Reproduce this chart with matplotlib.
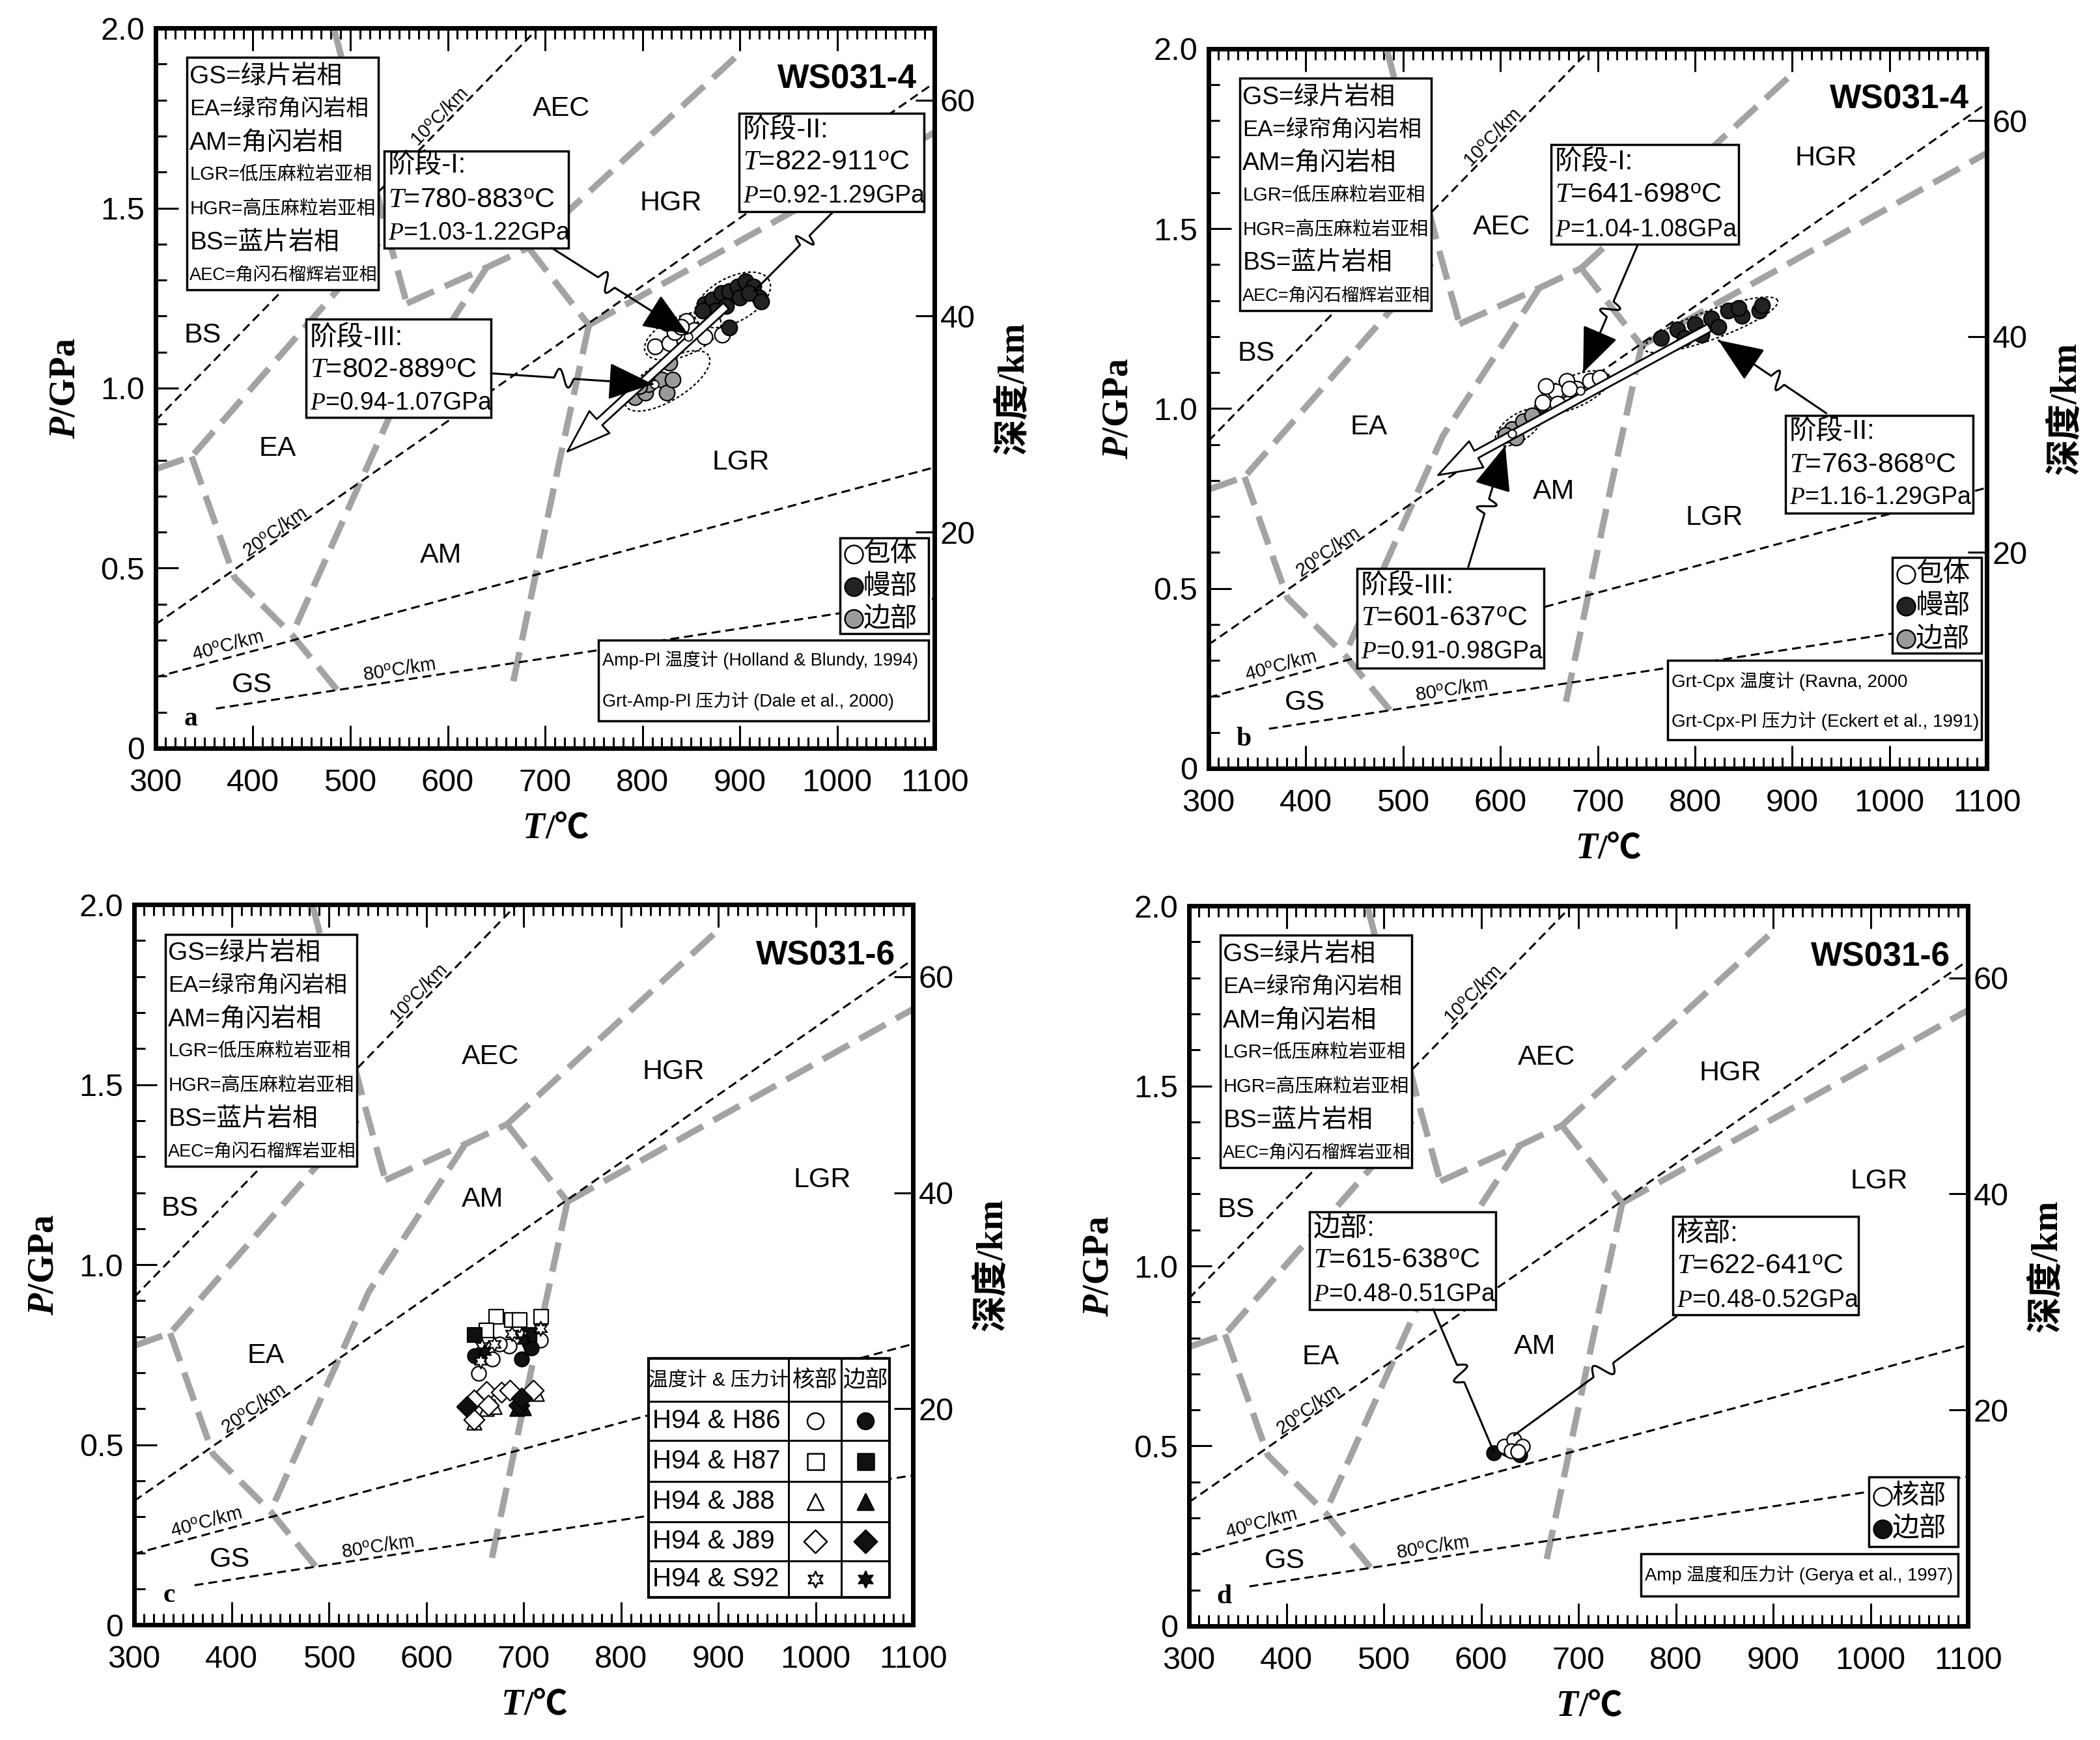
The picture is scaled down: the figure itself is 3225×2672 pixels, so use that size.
import numpy as np
import matplotlib
matplotlib.use('Agg')
import matplotlib.pyplot as plt
from matplotlib.patches import Rectangle, FancyArrowPatch
from matplotlib.path import Path
from matplotlib.ticker import MultipleLocator

plt.rcParams['font.family'] = ['Liberation Sans', 'Noto Sans CJK SC']
plt.rcParams['mathtext.fontset'] = 'custom'
plt.rcParams['mathtext.rm'] = 'Liberation Sans'
plt.rcParams['mathtext.it'] = 'Liberation Serif:italic'
plt.rcParams['mathtext.bf'] = 'Liberation Serif:bold'
plt.rcParams['mathtext.bfit'] = 'Liberation Serif:italic:bold'

SANS = ['Liberation Sans', 'Noto Sans CJK SC']
SERIF = ['Liberation Serif', 'Noto Sans CJK SC']

# ---- facies boundaries (T in C, P in GPa), shared by all panels
bnd_T = [[483, 538, 558], [300, 337, 538], [337, 381, 440, 490], [558, 640, 683],
         [640, 541, 440], [683, 900], [683, 745], [745, 1100], [745, 715, 667]]
bnd_P = [[2.0, 1.43, 1.235], [0.775, 0.81, 1.43], [0.81, 0.474, 0.315, 0.15], [1.235, 1.335, 1.39],
         [1.335, 0.925, 0.315], [1.39, 1.93], [1.39, 1.175], [1.175, 1.71], [1.175, 0.8, 0.18]]

# ---- geotherms
geo_labels = ['10$^{\\rm o}$C/km', '20$^{\\rm o}$C/km', '40$^{\\rm o}$C/km', '80$^{\\rm o}$C/km']
geo_T0 = [300, 300, 300, 362]
geo_P0 = [0.91, 0.344, 0.197, 0.11]
geo_T1 = [693, 1100, 1100, 1100]
geo_P1 = [2.0, 1.848, 0.78, 0.415]
geo_lab_T = [592, 423, 374, 550]
geo_lab_P = [1.753, 0.60, 0.285, 0.217]

facies = ['BS', 'EA', 'AM', 'LGR', 'HGR', 'AEC', 'GS']
facies_T = {'a': [348, 425, 593, 901, 829, 717, 399],
            'b': [349, 465, 655, 820, 935, 601, 399],
            'c': [347, 435, 658, 1007, 854, 666, 398],
            'd': [348, 435, 655, 1009, 856, 667, 398]}
facies_P = {'a': [1.146, 0.831, 0.535, 0.794, 1.513, 1.775, 0.175],
            'b': [1.152, 0.949, 0.769, 0.697, 1.695, 1.503, 0.182],
            'c': [1.155, 0.747, 1.181, 1.236, 1.535, 1.577, 0.181],
            'd': [1.155, 0.747, 0.775, 1.236, 1.535, 1.578, 0.181]}

legend_lines = ['GS=绿片岩相', 'EA=绿帘角闪岩相', 'AM=角闪岩相', 'LGR=低压麻粒岩亚相',
                'HGR=高压麻粒岩亚相', 'BS=蓝片岩相', 'AEC=角闪石榴辉岩亚相']
legend_sizes = [28, 25, 28, 21, 21, 28, 19.5]

# ---- panel a data (WS031-4, Amp-Pl)
incl_a_T = [813, 828, 845, 853, 864, 882, 833, 825, 840]
incl_a_P = [1.116, 1.125, 1.186, 1.161, 1.143, 1.149, 1.155, 1.18, 1.17]
rim_a_T = [792, 803, 811, 820, 825, 828, 806, 831, 797]
rim_a_P = [0.975, 0.987, 1.029, 1.023, 0.987, 1.071, 1.011, 1.023, 1.005]
mant_a_T = [864, 872, 881, 889, 898, 906, 914, 920, 900, 886, 875, 889, 909, 922, 862]
mant_a_P = [1.234, 1.246, 1.264, 1.27, 1.282, 1.297, 1.282, 1.252, 1.252, 1.228, 1.216, 1.168, 1.264, 1.24, 1.216]
mean_a_T = [847, 812]
mean_a_P = [1.143, 1.011]

# ---- panel b data (WS031-4, Grt-Cpx)
incl_b_T = [643.5, 657, 668, 678, 692, 702.5, 647, 659, 671]
incl_b_P = [1.017, 1.047, 1.077, 1.055, 1.077, 1.085, 1.062, 1.013, 1.055]
rim_b_T = [612, 623, 633, 605, 616]
rim_b_P = [0.942, 0.965, 0.98, 0.927, 0.92]
mant_b_T = [765, 782, 800, 817, 834, 848, 866, 869, 807, 824, 789, 845]
mant_b_P = [1.197, 1.22, 1.235, 1.25, 1.272, 1.257, 1.272, 1.287, 1.205, 1.227, 1.197, 1.28]
mean_b_T = [682, 612]
mean_b_P = [1.05, 0.93]

# ---- panel c data (WS031-6, several barometers), open = core, filled = rim
c_rows = ['H94 & H86', 'H94 & H87', 'H94 & J88', 'H94 & J89', 'H94 & S92']
c_markers = ['o', 's', '^', 'D', (6, 1, 0)]
c_core_T = [[654, 668, 685, 717, 675],
            [672, 688, 696, 718, 662],
            [649, 662, 670, 713],
            [649, 649, 662, 677, 686, 710, 664],
            [656, 670, 688, 698, 717, 657]]
c_core_P = [[0.699, 0.738, 0.774, 0.79, 0.78],
            [0.856, 0.847, 0.847, 0.856, 0.817],
            [0.563, 0.60, 0.606, 0.642],
            [0.569, 0.624, 0.648, 0.645, 0.651, 0.651, 0.609],
            [0.732, 0.78, 0.808, 0.805, 0.823, 0.774]]
c_rim_T = [[650, 698, 708],
           [650, 706],
           [693, 700],
           [642, 695, 698],
           [660, 700]]
c_rim_P = [[0.747, 0.738, 0.768],
           [0.805, 0.805],
           [0.60, 0.603],
           [0.606, 0.609, 0.63],
           [0.76, 0.79]]

# ---- panel d data (WS031-6, Amp)
core_d_T = [624, 634, 642.5, 631, 637.6]
core_d_P = [0.499, 0.518, 0.499, 0.487, 0.484]
rim_d_T = [613, 627, 640]
rim_d_P = [0.481, 0.491, 0.476]


def wiggle(ax, p0, p1, frac=0.45, amp=14, width=0.12):
    # straight line with a small S-shaped kink, built in pixel space
    a = ax.transData.transform(p0)
    b = ax.transData.transform(p1)
    d = b - a
    n = np.array([-d[1], d[0]]) / np.hypot(*d)
    s = np.linspace(0, 1, 300)
    off = np.where(np.abs(s - frac) < width / 2,
                   amp * np.sin(2 * np.pi * (s - frac + width / 2) / width), 0)
    pts = a + np.outer(s, d) + np.outer(off, n)
    return ax.transData.inverted().transform(pts)


def pointer(ax, p0, p1, head=True, **kw):
    pts = wiggle(ax, p0, p1, **kw)
    if head:
        arr = FancyArrowPatch(path=Path(pts), arrowstyle='-|>,head_length=1.1,head_width=0.45',
                              mutation_scale=40, color='k', lw=2.2, zorder=7)
        ax.add_patch(arr)
    else:
        ax.plot(pts[:, 0], pts[:, 1], color='k', lw=2.2, zorder=7)


def dotted_ellipse(ax, p0, p1, half_w):
    a = ax.transData.transform(p0)
    b = ax.transData.transform(p1)
    c = (a + b) / 2
    u = (b - a) / 2
    n = np.array([-u[1], u[0]]) / np.hypot(*u) * half_w
    t = np.linspace(0, 2 * np.pi, 120)
    pts = c + np.outer(np.cos(t), u) + np.outer(np.sin(t), n)
    pts = ax.transData.inverted().transform(pts)
    ax.plot(pts[:, 0], pts[:, 1], color='k', lw=1.6, ls=(0, (2, 1.6)), zorder=3)


def text_box(ax, x0, y0, x1, y1, lines, ys, sizes):
    ax.add_patch(Rectangle((x0, y0), x1 - x0, y1 - y0, fc='white', ec='k', lw=2.5, zorder=5))
    for s, y, fs in zip(lines, ys, sizes):
        ax.text(x0 + 4, y, s, fontsize=fs, va='center', ha='left', zorder=6)


def base(ax, key, sample):
    ax.set_xlim(300, 1100)
    ax.set_ylim(0, 2)
    for T, P in zip(bnd_T, bnd_P):
        ax.plot(T, P, color='#a3a3a3', lw=7, ls=(0, (4.7, 1.9)), zorder=2, solid_capstyle='butt')
    for i in range(4):
        ax.plot([geo_T0[i], geo_T1[i]], [geo_P0[i], geo_P1[i]], color='k', lw=2.2,
                ls=(0, (4.5, 2.5)), zorder=2)
        a = ax.transData.transform((geo_T0[i], geo_P0[i]))
        b = ax.transData.transform((geo_T1[i], geo_P1[i]))
        ang = np.degrees(np.arctan2(b[1] - a[1], b[0] - a[0]))
        ax.text(geo_lab_T[i], geo_lab_P[i], geo_labels[i], rotation=ang, fontsize=21,
                ha='center', va='center', zorder=3)
    for name, T, P in zip(facies, facies_T[key], facies_P[key]):
        ax.text(T, P, name, fontsize=31, ha='center', va='center', zorder=3)
    # facies abbreviation box
    ax.add_patch(Rectangle((332, 1.273), 197, 0.645, fc='white', ec='k', lw=2.5, zorder=5))
    for s, P, fs in zip(legend_lines, [1.865, 1.775, 1.682, 1.592, 1.498, 1.404, 1.311], legend_sizes):
        ax.text(335, P, s, fontsize=fs, va='center', ha='left', zorder=6)
    ax.text(1082, 1.858, sample, fontsize=37, fontweight='bold', ha='right', va='center', zorder=6)
    ax.text(336, 0.082, key, fontsize=30, fontweight='bold', family=SERIF, ha='center', va='center',
            zorder=6, bbox=dict(fc='white', ec='none', pad=2))

    ax.set_xticks(range(300, 1101, 100))
    ax.set_yticks([0, 0.5, 1.0, 1.5, 2.0])
    ax.set_yticklabels(['0', '0.5', '1.0', '1.5', '2.0'])
    ax.xaxis.set_minor_locator(MultipleLocator(10))
    ax.yaxis.set_minor_locator(MultipleLocator(0.1))
    ax.tick_params(which='both', direction='in', top=True, right=False, width=2.2, labelsize=35)
    ax.tick_params(which='major', length=25)
    ax.tick_params(which='minor', length=12)
    ax.tick_params(axis='x', which='major', pad=22)
    ax.tick_params(axis='y', which='major', pad=12)
    for sp in ax.spines.values():
        sp.set_linewidth(5)
    # T/℃ : italic T, upright unit
    ax.text(0.5, -0.112, 'T', transform=ax.transAxes, fontsize=40, family=SERIF,
            fontweight='bold', fontstyle='italic', ha='right', va='center')
    ax.text(0.5, -0.112, '/℃', transform=ax.transAxes, fontsize=38, family=SERIF,
            fontweight='bold', ha='left', va='center')
    ax.set_ylabel(r'$\mathbfit{P}$/GPa', fontsize=40, family=SERIF, fontweight='bold')
    ax.yaxis.set_label_coords(-0.094, 0.5)

    axr = ax.twinx()
    axr.set_ylim(0, 2 / 0.03)
    axr.set_yticks([20, 40, 60])
    axr.tick_params(direction='in', length=21, width=2.2, labelsize=35, pad=6)
    for sp in axr.spines.values():
        sp.set_linewidth(5)
    axr.set_ylabel('深度/km', fontsize=40, family=SERIF, fontweight='bold')
    axr.yaxis.set_label_coords(1.08, 0.5)
    return axr


def circles_legend(ax, x, ys, colors, names, box):
    ax.add_patch(Rectangle((box[0], box[1]), box[2] - box[0], box[3] - box[1],
                           fc='white', ec='k', lw=2.5, zorder=5))
    for y, c, n in zip(ys, colors, names):
        ax.scatter([x], [y], s=20 ** 2, c=c, edgecolors='k', linewidths=1.8, zorder=6)
        ax.text(x + 10, y, n, fontsize=30, va='center', ha='left', zorder=6)


fig = plt.figure(figsize=(32.25, 26.72), dpi=100)
ax_a = fig.add_axes([0.0741, 0.5700, 0.3709, 0.4139])
ax_b = fig.add_axes([0.5755, 0.5584, 0.3706, 0.4136])
ax_c = fig.add_axes([0.0639, 0.0662, 0.3709, 0.4139])
ax_d = fig.add_axes([0.5662, 0.0655, 0.3709, 0.4139])

# ================= panel a
base(ax_a, 'a', 'WS031-4')
ms = 17 ** 2
ax_a.scatter(incl_a_T, incl_a_P, s=ms, c='white', edgecolors='k', linewidths=1.6, zorder=4)
ax_a.scatter(rim_a_T, rim_a_P, s=ms, c='#9a9a9a', edgecolors='k', linewidths=1.6, zorder=4)
ax_a.scatter(mant_a_T, mant_a_P, s=ms, c='#222222', edgecolors='k', linewidths=1.6, zorder=4)
dotted_ellipse(ax_a, (855, 1.19), (930, 1.30), 34)
dotted_ellipse(ax_a, (803, 1.10), (880, 1.19), 30)
dotted_ellipse(ax_a, (783, 0.95), (868, 1.09), 30)
ax_a.add_patch(FancyArrowPatch((886, 1.228), (723, 0.824),
                               arrowstyle='simple,head_length=1.6,head_width=1.1,tail_width=0.3',
                               mutation_scale=30, fc='white', ec='k', lw=2, zorder=4.5,
                               shrinkA=0, shrinkB=0))
ax_a.scatter(mean_a_T, mean_a_P, s=9 ** 2, c='white', edgecolors='k', linewidths=1.4, zorder=4.6)
text_box(ax_a, 534.5, 1.389, 724, 1.658,
         ['阶段-I:', r'$T$=780-883$^{\rm o}$C', r'$P$=1.03-1.22GPa'],
         [1.618, 1.521, 1.431], [30, 31, 27])
text_box(ax_a, 899, 1.49, 1089, 1.763,
         ['阶段-II:', r'$T$=822-911$^{\rm o}$C', r'$P$=0.92-1.29GPa'],
         [1.715, 1.625, 1.533], [30, 31, 27])
text_box(ax_a, 454.6, 0.918, 644.4, 1.191,
         ['阶段-III:', r'$T$=802-889$^{\rm o}$C', r'$P$=0.94-1.07GPa'],
         [1.139, 1.049, 0.959], [30, 31, 27])
pointer(ax_a, (707, 1.389), (847, 1.15), frac=0.4)
pointer(ax_a, (994.6, 1.486), (915, 1.27), head=False, frac=0.35)
pointer(ax_a, (644.4, 1.041), (811, 1.011), frac=0.45)
circles_legend(ax_a, 1017, [0.539, 0.449, 0.36], ['white', '#222222', '#9a9a9a'],
               ['包体', '幔部', '边部'], (1003, 0.319, 1093.6, 0.584))
text_box(ax_a, 755, 0.075, 1093.6, 0.30,
         ['Amp-Pl 温度计 (Holland & Blundy, 1994)', 'Grt-Amp-Pl 压力计 (Dale et al., 2000)'],
         [0.244, 0.130], [19.5, 19.5])

# ================= panel b
base(ax_b, 'b', 'WS031-4')
ax_b.scatter(incl_b_T, incl_b_P, s=ms, c='white', edgecolors='k', linewidths=1.6, zorder=4)
ax_b.scatter(rim_b_T, rim_b_P, s=ms, c='#9a9a9a', edgecolors='k', linewidths=1.6, zorder=4)
ax_b.scatter(mant_b_T, mant_b_P, s=ms, c='#222222', edgecolors='k', linewidths=1.6, zorder=4)
dotted_ellipse(ax_b, (748, 1.165), (885, 1.30), 22)
dotted_ellipse(ax_b, (636, 1.0), (712, 1.09), 24)
dotted_ellipse(ax_b, (596, 0.905), (642, 0.99), 20)
ax_b.add_patch(FancyArrowPatch((815, 1.225), (536, 0.815),
                               arrowstyle='simple,head_length=1.6,head_width=1.1,tail_width=0.3',
                               mutation_scale=30, fc='white', ec='k', lw=2, zorder=4.5,
                               shrinkA=0, shrinkB=0))
ax_b.scatter(mean_b_T, mean_b_P, s=9 ** 2, c='white', edgecolors='k', linewidths=1.4, zorder=4.6)
text_box(ax_b, 652, 1.457, 845, 1.733,
         ['阶段-I:', r'$T$=641-698$^{\rm o}$C', r'$P$=1.04-1.08GPa'],
         [1.685, 1.592, 1.497], [30, 31, 27])
text_box(ax_b, 893, 0.71, 1086, 0.98,
         ['阶段-II:', r'$T$=763-868$^{\rm o}$C', r'$P$=1.16-1.29GPa'],
         [0.935, 0.842, 0.752], [30, 31, 27])
text_box(ax_b, 452.7, 0.279, 645, 0.555,
         ['阶段-III:', r'$T$=601-637$^{\rm o}$C', r'$P$=0.91-0.98GPa'],
         [0.507, 0.417, 0.324], [30, 31, 27])
pointer(ax_b, (740.7, 1.452), (685, 1.10), frac=0.5)
pointer(ax_b, (935, 0.987), (824, 1.19), frac=0.45)
pointer(ax_b, (567, 0.56), (605, 0.897), frac=0.5)
circles_legend(ax_b, 1017, [0.54, 0.45, 0.36], ['white', '#222222', '#9a9a9a'],
               ['包体', '幔部', '边部'], (1003, 0.32, 1094.6, 0.587))
text_box(ax_b, 772, 0.08, 1094.6, 0.30,
         ['Grt-Cpx 温度计 (Ravna, 2000', 'Grt-Cpx-Pl 压力计 (Eckert et al., 1991)'],
         [0.2416, 0.132], [20, 20])

# ================= panel c
base(ax_c, 'c', 'WS031-6')
msc = 16 ** 2
for k in range(5):
    ax_c.scatter(c_core_T[k], c_core_P[k], s=msc, marker=c_markers[k], c='white',
                 edgecolors='k', linewidths=1.6, zorder=4)
    ax_c.scatter(c_rim_T[k], c_rim_P[k], s=msc, marker=c_markers[k], c='#111111',
                 edgecolors='k', linewidths=1.6, zorder=4)
col_x = [828.4, 972, 1026.5, 1076]
row_y = [0.7395, 0.620, 0.5116, 0.3984, 0.2868, 0.1783, 0.076]
ax_c.add_patch(Rectangle((col_x[0], row_y[-1]), col_x[-1] - col_x[0], row_y[0] - row_y[-1],
                         fc='white', ec='k', lw=3, zorder=5))
for x in col_x[1:-1]:
    ax_c.plot([x, x], [row_y[-1], row_y[0]], color='k', lw=2.2, zorder=6)
for y in row_y[1:-1]:
    ax_c.plot([col_x[0], col_x[-1]], [y, y], color='k', lw=2.2, zorder=6)
hy = (row_y[0] + row_y[1]) / 2
ax_c.text((col_x[0] + col_x[1]) / 2, hy, '温度计 & 压力计', fontsize=21.5,
          ha='center', va='center', zorder=7)
ax_c.text((col_x[1] + col_x[2]) / 2, hy, '核部', fontsize=25, ha='center', va='center', zorder=7)
ax_c.text((col_x[2] + col_x[3]) / 2, hy, '边部', fontsize=25, ha='center', va='center', zorder=7)
for k in range(5):
    y = (row_y[k + 1] + row_y[k + 2]) / 2
    ax_c.text(col_x[0] + 4, y, c_rows[k], fontsize=29, ha='left', va='center', zorder=7)
    ax_c.scatter([(col_x[1] + col_x[2]) / 2], [y], s=18 ** 2, marker=c_markers[k], c='white',
                 edgecolors='k', linewidths=1.8, zorder=7)
    ax_c.scatter([(col_x[2] + col_x[3]) / 2], [y], s=18 ** 2, marker=c_markers[k], c='#111111',
                 edgecolors='k', linewidths=1.8, zorder=7)

# ================= panel d
base(ax_d, 'd', 'WS031-6')
ax_d.scatter(rim_d_T, rim_d_P, s=msc, c='#111111', edgecolors='k', linewidths=1.6, zorder=4)
ax_d.scatter(core_d_T, core_d_P, s=msc, c='white', edgecolors='k', linewidths=1.6, zorder=4)
text_box(ax_d, 424, 0.879, 614.7, 1.15,
         ['边部:', r'$T$=615-638$^{\rm o}$C', r'$P$=0.48-0.51GPa'],
         [1.104, 1.014, 0.921], [30, 31, 27])
text_box(ax_d, 797, 0.864, 987.7, 1.138,
         ['核部:', r'$T$=622-641$^{\rm o}$C', r'$P$=0.48-0.52GPa'],
         [1.088, 0.998, 0.905], [30, 31, 27])
pointer(ax_d, (551, 0.879), (613, 0.484), head=False, frac=0.45)
pointer(ax_d, (800.5, 0.859), (634, 0.53), head=False, frac=0.45)
circles_legend(ax_d, 1012, [0.36, 0.27], ['white', '#111111'], ['核部', '边部'],
               (998, 0.22, 1090, 0.414))
text_box(ax_d, 764, 0.084, 1090, 0.20, ['Amp 温度和压力计 (Gerya et al., 1997)'],
         [0.143], [19.8])

fig.savefig('out.png', dpi=100)
